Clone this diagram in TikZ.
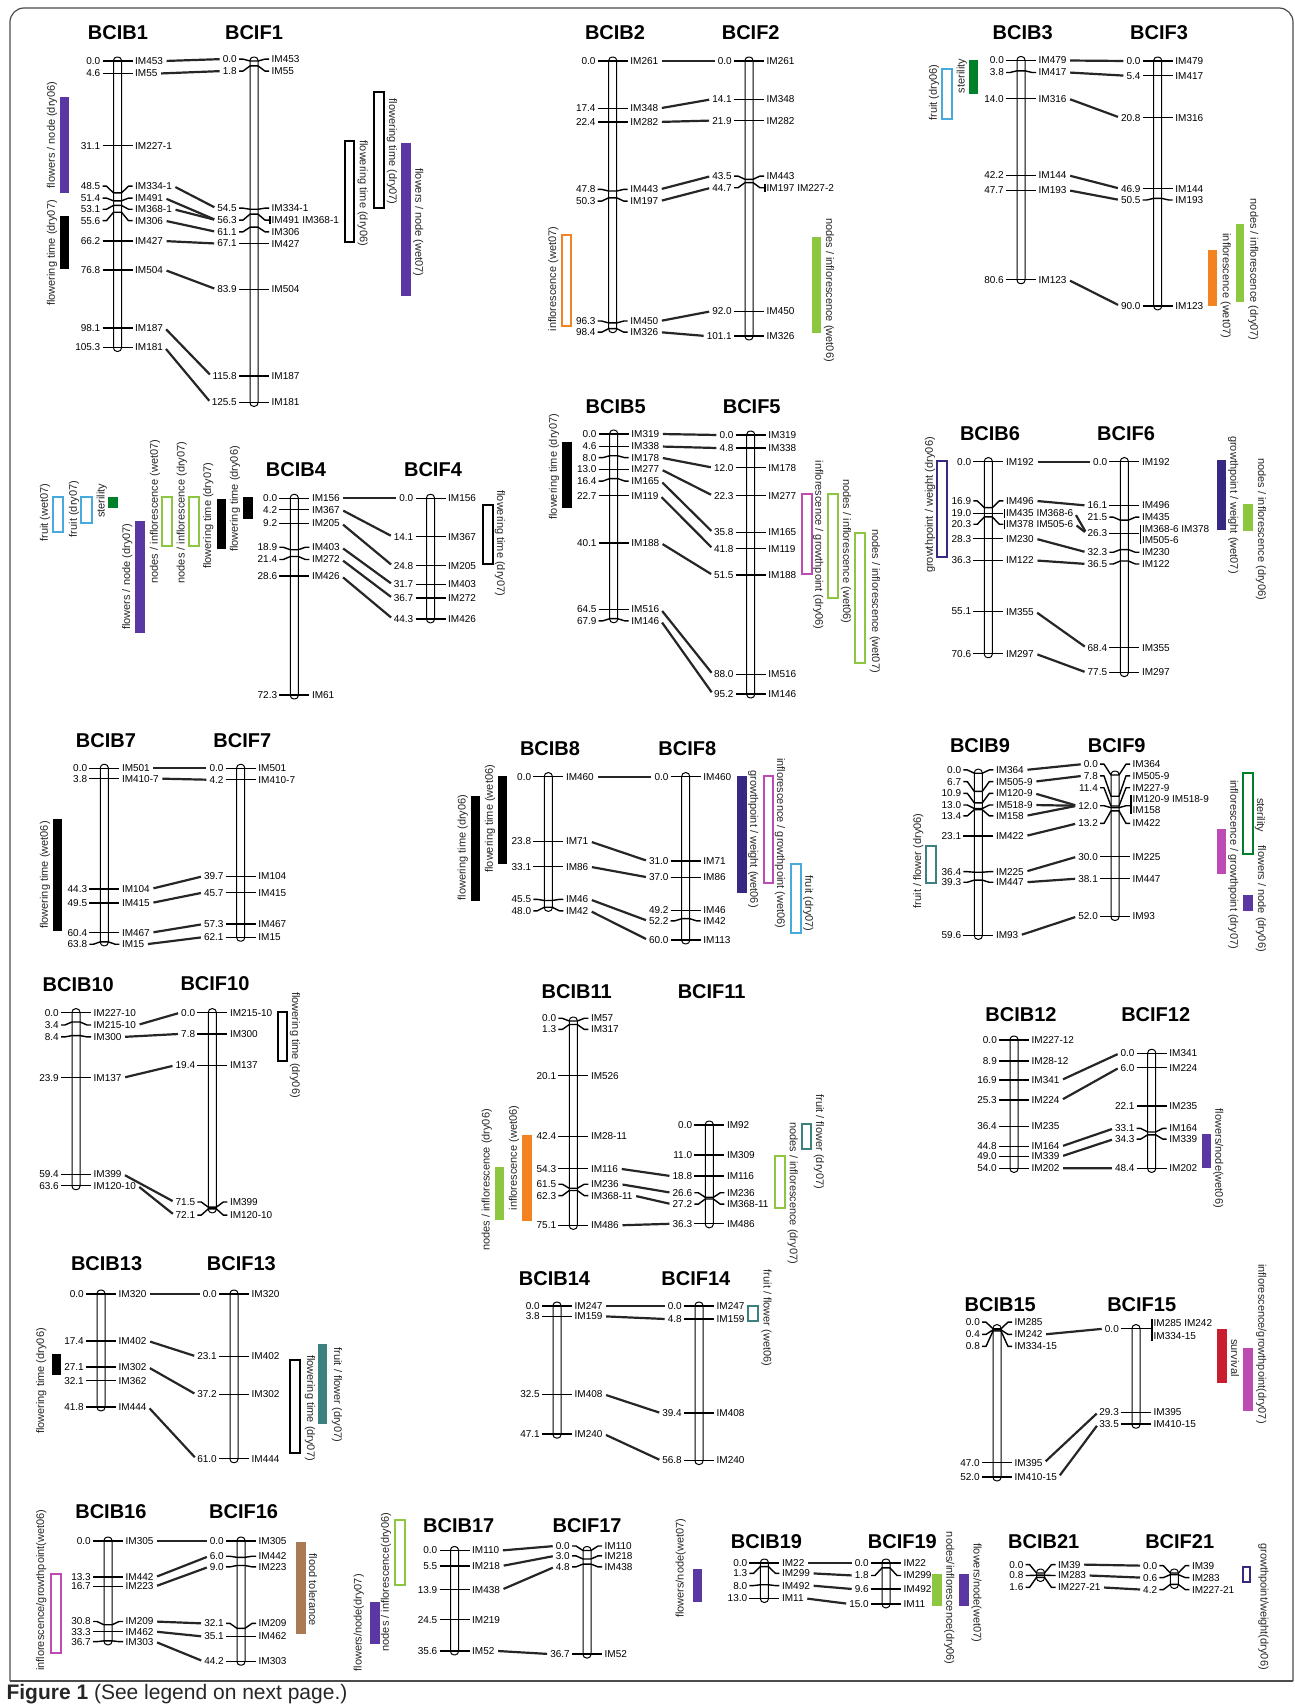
\documentclass[tikz,border=0pt]{standalone}
\usepackage{fontspec}
\setmainfont{Liberation Sans}
\usetikzlibrary{calc}
\definecolor{cPurple}{RGB}{91,55,163}
\definecolor{cGreenL}{RGB}{141,198,63}
\definecolor{cOrange}{RGB}{243,130,33}
\definecolor{cSky}{RGB}{72,170,220}
\definecolor{cGreenD}{RGB}{0,128,40}
\definecolor{cMagenta}{RGB}{190,75,180}
\definecolor{cIndigo}{RGB}{55,40,130}
\definecolor{cTeal}{RGB}{60,128,128}
\definecolor{cRed}{RGB}{200,30,45}
\definecolor{cBrown}{RGB}{170,122,85}
\tikzset{
	chrbar/.style ={draw=black, fill=white, line width=1pt, rounded corners=3.5pt},
	mtick/.style  ={line width=1.4pt, line join=round},
	poslab/.style ={anchor=east, inner sep=1pt, font=\fontsize{10}{11}\selectfont},
	mklab/.style  ={anchor=west, inner sep=1.5pt, font=\fontsize{10}{11}\selectfont},
	chrtitle/.style={font=\fontsize{20}{22}\selectfont\bfseries},
	lnk/.style    ={line width=2.2pt, black!85, shorten <=2pt, shorten >=2pt},
	brk/.style    ={line width=1.4pt, shorten <=1pt, shorten >=1pt},
	% QTL bars
	qbar/.style   ={fill=#1, draw=none},
	qbox/.style   ={draw=#1, line width=2pt},
	qtxt/.style   ={font=\fontsize{11}{12}\selectfont, inner sep=0pt, black!85},
}
% #1 name, #2 x, #3 y of 0.0, #4 px per cM, #5 length, #6 pos/label pos/marker
\newcommand{\chrom}[6]{%
	\begin{scope}[shift={(#2,#3)}, yscale=#4]
		\pgfmathsetmacro{\chrext}{4/#4}
		\draw[chrbar] (-4,-\chrext) rectangle (4,#5+\chrext);
		\foreach \cpos/\clab/\cmk [count=\ci] in {#6} {
			\draw[mtick] (-15,\clab) -- (-11,\clab) -- (-4,\cpos) -- (4,\cpos) -- (11,\clab) -- (15,\clab);
			\node[poslab] (#1p\ci) at (-16,\clab) {\cpos};
			\node[mklab] (#1m\ci) at (16,\clab) {\cmk};
		}
	\end{scope}}

\begin{document}
\begin{tikzpicture}[x=1pt, y=-1pt]
	\useasboundingbox (0,0) rectangle (1295,1705);
	\draw[black!70, line width=1.2pt, rounded corners=14pt] (10,1681) -- (10,8) -- (1293,8) -- (1293,1681);
	\draw[black!70, line width=1.2pt] (10,1681) -- (1293,1681);
	\node[anchor=west, font=\fontsize{21}{23}\selectfont, black!85] (cap) at (3,1694) {\textbf{Figure 1} (See legend on next page.)};

	% ---- pair 1
	\node[chrtitle] (tB1) at (118,33) {BCIB1};
	\node[chrtitle] (tF1) at (254,33) {BCIF1};
	\chrom{B1}{117.5}{61}{2.72}{105.3}{0.0/0.0/IM453, 4.6/4.6/IM55, 31.1/31.1/IM227-1, 48.5/46.0/IM334-1, 51.4/50.4/IM491, 53.1/54.5/IM368-1, 55.6/58.7/IM306, 66.2/66.2/IM427, 76.8/76.8/IM504, 98.1/98.1/IM187, 105.3/105.3/IM181}
	\chrom{F1}{254}{61}{2.72}{125.5}{0.0/-0.7/IM453, 1.8/3.7/IM55, 54.5/54.1/IM334-1, 56.3/58.5/{IM491 IM368-1}, 61.1/62.8/IM306, 67.1/67.1/IM427, 83.9/83.9/IM504, 115.8/115.8/IM187, 125.5/125.5/IM181}
	\draw[brk] (F1m4.north west) -- (F1m4.south west);
	\foreach \a/\b in {1/1, 2/2, 4/3, 5/4, 6/4, 7/5, 8/6, 9/7, 10/8, 11/9}
		\draw[lnk] (B1m\a.east) -- (F1p\b.west);
	\draw[qbar=cPurple] (60,97.3) rectangle (69.3,192.7);
	\node[qtxt, rotate=90] (q1a) at (52,135) {flowers / node (dry06)};
	\draw[qbar=black] (60,216) rectangle (69.3,269.3);
	\node[qtxt, rotate=90] (q1b) at (52,253) {flowering time (dry07)};
	\draw[qbox=black] (374,91.7) rectangle (384,208.3);
	\node[qtxt, rotate=-90] (q1c) at (392,151.7) {flowering time (dry07)};
	\draw[qbox=black] (345,141.3) rectangle (354,242.3);
	\node[qtxt, rotate=-90] (q1d) at (362.7,193.3) {flowering time (dry06)};
	\draw[qbar=cPurple] (401,142.7) rectangle (411,296);
	\node[qtxt, rotate=-90] (q1e) at (418.3,222.5) {flowers / node (wet07)};

	% ---- pair 2
	\node[chrtitle] (tB2) at (615,33) {BCIB2};
	\node[chrtitle] (tF2) at (750.7,33) {BCIF2};
	\chrom{B2}{612.7}{61}{2.72}{98.4}{0.0/0.0/IM261, 17.4/17.4/IM348, 22.4/22.4/IM282, 47.8/47.2/IM443, 50.3/51.5/IM197, 96.3/95.6/IM450, 98.4/99.7/IM326}
	\chrom{F2}{749}{61}{2.72}{101.1}{0.0/0.0/IM261, 14.1/14.1/IM348, 21.9/21.9/IM282, 43.5/42.3/IM443, 44.7/46.6/{IM197 IM227-2}, 92.0/92.0/IM450, 101.1/101.1/IM326}
	\draw[brk] (F2m5.north west) -- (F2m5.south west);
	\foreach \a/\b in {1/1, 2/2, 3/3, 4/4, 5/5, 6/6, 7/7}
		\draw[lnk] (B2m\a.east) -- (F2p\b.west);
	\draw[qbox=cOrange] (561.7,235) rectangle (570.7,325.7);
	\node[qtxt, rotate=90] (q2a) at (553.3,279) {inflorescence (wet07)};
	\draw[qbar=cGreenL] (812.3,237.3) rectangle (821,333.3);
	\node[qtxt, rotate=-90] (q2b) at (829,290) {nodes / inflorescence (wet06)};

	% ---- pair 3
	\node[chrtitle] (tB3) at (1022.7,33) {BCIB3};
	\node[chrtitle] (tF3) at (1159,33) {BCIF3};
	\chrom{B3}{1021}{60.5}{2.72}{80.6}{0.0/0.0/IM479, 3.8/4.4/IM417, 14.0/14.0/IM316, 42.2/42.2/IM144, 47.7/47.7/IM193, 80.6/80.6/IM123}
	\chrom{F3}{1157.7}{61}{2.72}{90.0}{0.0/0.0/IM479, 5.4/5.4/IM417, 20.8/20.8/IM316, 46.9/46.9/IM144, 50.5/51.1/IM193, 90.0/90.0/IM123}
	\foreach \a/\b in {1/1, 2/2, 3/3, 4/4, 5/5, 6/6}
		\draw[lnk] (B3m\a.east) -- (F3p\b.west);
	\draw[qbox=cSky] (941.7,69) rectangle (951.7,119.3);
	\node[qtxt, rotate=90] (q3a) at (934,92.5) {fruit (dry06)};
	\draw[qbar=cGreenD] (969.3,60) rectangle (978.3,94);
	\node[qtxt, rotate=90] (q3b) at (961.7,76) {sterility};
	\draw[qbar=cOrange] (1208.3,250) rectangle (1217.3,306);
	\node[qtxt, rotate=-90] (q3c) at (1225.7,285.8) {inflorescence (wet07)};
	\draw[qbar=cGreenL] (1236,224.3) rectangle (1244.3,301.7);
	\node[qtxt, rotate=-90] (q3d) at (1253.3,269.7) {nodes / inflorescence (dry07)};

	% ---- pair 4
	\node[chrtitle] (tB4) at (296,470) {BCIB4};
	\node[chrtitle] (tF4) at (433,470) {BCIF4};
	\chrom{B4}{294.3}{498.3}{2.72}{72.3}{0.0/0.0/IM156, 4.2/4.2/IM367, 9.2/9.2/IM205, 18.9/18.0/IM403, 21.4/22.5/IM272, 28.6/28.6/IM426, 72.3/72.3/IM61}
	\chrom{F4}{430.5}{498.3}{2.72}{44.3}{0.0/0.0/IM156, 14.1/14.1/IM367, 24.8/24.8/IM205, 31.7/31.7/IM403, 36.7/36.7/IM272, 44.3/44.3/IM426}
	\foreach \a/\b in {1/1, 2/2, 3/3, 4/4, 5/5, 6/6}
		\draw[lnk] (B4m\a.east) -- (F4p\b.west);
	\draw[qbox=cSky] (52.7,497.3) rectangle (62.7,532.3);
	\node[qtxt, rotate=90] (q4a) at (45,512.5) {fruit (wet07)};
	\draw[qbox=cSky] (81,497.3) rectangle (91.7,523.3);
	\node[qtxt, rotate=90] (q4b) at (74,509) {fruit (dry07)};
	\draw[qbar=cGreenD] (108.3,497.3) rectangle (118.3,507.7);
	\node[qtxt, rotate=90] (q4c) at (101.7,500.8) {sterility};
	\draw[qbar=cPurple] (135,521) rectangle (145,633.3);
	\node[qtxt, rotate=90] (q4d) at (127.3,576.7) {flowers / node (dry07)};
	\draw[qbox=cGreenL] (162.3,497.3) rectangle (172.3,546);
	\node[qtxt, rotate=90] (q4e) at (155,511.7) {nodes / inflorescence (wet07)};
	\draw[qbox=cGreenL] (189,497.3) rectangle (199,546);
	\node[qtxt, rotate=90] (q4f) at (181.7,512.5) {nodes / inflorescence (dry07)};
	\draw[qbar=black] (216.7,499) rectangle (226,549.3);
	\node[qtxt, rotate=90] (q4g) at (208.3,515.8) {flowering time (dry07)};
	\draw[qbar=black] (243.3,497.3) rectangle (252.7,519);
	\node[qtxt, rotate=90] (q4h) at (235,499) {flowering time (dry06)};
	\draw[qbox=black] (482.7,505) rectangle (492.7,564.3);
	\node[qtxt, rotate=-90] (q4i) at (500,543.3) {flowering time (dry07)};

	% ---- pair 5
	\node[chrtitle] (tB5) at (615.7,406.7) {BCIB5};
	\node[chrtitle] (tF5) at (751.7,406.7) {BCIF5};
	\chrom{B5}{613.7}{434}{2.72}{67.9}{0.0/0.0/IM319, 4.6/4.6/IM338, 8.0/8.7/IM178, 13.0/13.0/IM277, 16.4/17.3/IM165, 22.7/22.7/IM119, 40.1/40.1/IM188, 64.5/64.5/IM516, 67.9/68.7/IM146}
	\chrom{F5}{750.7}{435}{2.72}{95.2}{0.0/0.0/IM319, 4.8/4.8/IM338, 12.0/12.0/IM178, 22.3/22.3/IM277, 35.8/35.8/IM165, 41.8/41.8/IM119, 51.5/51.5/IM188, 88.0/88.0/IM516, 95.2/95.2/IM146}
	\foreach \a/\b in {1/1, 2/2, 3/3, 4/4, 5/5, 6/6, 7/7, 8/8, 9/9}
		\draw[lnk] (B5m\a.east) -- (F5p\b.west);
	\draw[qbar=black] (562.3,442.3) rectangle (571.7,508.3);
	\node[qtxt, rotate=90] (q5a) at (554,466.7) {flowering time (dry07)};
	\draw[qbox=cMagenta] (801.7,494.3) rectangle (811.7,574.3);
	\node[qtxt, rotate=-90] (q5b) at (818.3,545.3) {inflorescence / growthpoint (dry06)};
	\draw[qbox=cGreenL] (828.3,494.3) rectangle (838.3,598.3);
	\node[qtxt, rotate=-90] (q5c) at (846,551.3) {nodes / inflorescence (wet06)};
	\draw[qbox=cGreenL] (855,533.3) rectangle (865,663.3);
	\node[qtxt, rotate=-90] (q5d) at (875,601) {nodes / inflorescence (wet07)};

	% ---- pair 6
	\node[chrtitle] (tB6) at (990,433.3) {BCIB6};
	\node[chrtitle] (tF6) at (1126,433.3) {BCIF6};
	\chrom{B6}{988.3}{461.7}{2.72}{70.6}{0.0/0.0/IM192, 16.9/14.4/IM496, 19.0/19.0/{IM435 IM368-6}, 20.3/23.0/{IM378 IM505-6}, 28.3/28.3/IM230, 36.3/36.3/IM122, 55.1/55.1/IM355, 70.6/70.6/IM297}
	\chrom{F6}{1124.3}{461.7}{2.72}{77.5}{0.0/0.0/IM192, 16.1/16.1/IM496, 21.5/20.4/IM435, 26.3/26.3/{}, 32.3/33.3/IM230, 36.5/37.6/IM122, 68.4/68.4/IM355, 77.5/77.5/IM297}
	\draw[brk] (B6m3.north west) -- (B6m3.south west);
	\draw[brk] (B6m4.north west) -- (B6m4.south west);
	\node[mklab] (F6x1) at (1140.3,529) {IM368-6 IM378};
	\node[mklab] (F6x2) at (1140.3,540) {IM505-6};
	\draw[brk] (F6x1.north west) -- (F6x2.south west);
	\foreach \a/\b in {1/1, 2/2, 3/4, 4/4, 5/5, 6/6, 7/7, 8/8}
		\draw[lnk] (B6m\a.east) -- (F6p\b.west);
	\draw[qbox=cIndigo] (937.3,461) rectangle (946.7,557.3);
	\node[qtxt, rotate=90] (q6a) at (930,505) {growthpoint / weight (dry06)};
	\draw[qbar=cIndigo] (1216.7,460) rectangle (1226,530);
	\node[qtxt, rotate=-90] (q6b) at (1233.3,505) {growthpoint / weight (wet07)};
	\draw[qbar=cGreenL] (1243.3,504) rectangle (1252.7,530.7);
	\node[qtxt, rotate=-90] (q6c) at (1261,529.3) {nodes / inflorescence (dry06)};

	% ---- pair 7
	\node[chrtitle] (tB7) at (106,740.7) {BCIB7};
	\node[chrtitle] (tF7) at (242.3,740.7) {BCIF7};
	\chrom{B7}{104.3}{768.3}{2.72}{63.8}{0.0/0.0/IM501, 3.8/3.8/IM410-7, 44.3/44.3/IM104, 49.5/49.5/IM415, 60.4/60.4/IM467, 63.8/64.7/IM15}
	\chrom{F7}{240.7}{768.3}{2.72}{62.1}{0.0/0.0/IM501, 4.2/4.2/IM410-7, 39.7/39.7/IM104, 45.7/45.7/IM415, 57.3/57.3/IM467, 62.1/62.1/IM15}
	\foreach \a/\b in {1/1, 2/2, 3/3, 4/4, 5/5, 6/6}
		\draw[lnk] (B7m\a.east) -- (F7p\b.west);
	\draw[qbar=black] (52.7,819) rectangle (62,930.7);
	\node[qtxt, rotate=90] (q7a) at (45,875) {flowering time (wet06)};

	% ---- pair 8
	\node[chrtitle] (tB8) at (550,748.3) {BCIB8};
	\node[chrtitle] (tF8) at (687.3,748.3) {BCIF8};
	\chrom{B8}{548.3}{776.7}{2.72}{48.0}{0.0/0.0/IM460, 23.8/23.8/IM71, 33.1/33.1/IM86, 45.5/45.1/IM46, 48.0/49.3/IM42}
	\chrom{F8}{685.7}{776.7}{2.72}{60.0}{0.0/0.0/IM460, 31.0/31.0/IM71, 37.0/37.0/IM86, 49.2/49.2/IM46, 52.2/53.0/IM42, 60.0/60.0/IM113}
	\foreach \a/\b in {1/1, 2/2, 3/3, 4/5, 5/6}
		\draw[lnk] (B8m\a.east) -- (F8p\b.west);
	\draw[qbar=black] (470.7,796) rectangle (480,900.7);
	\node[qtxt, rotate=90] (q8a) at (462.7,847.5) {flowering time (dry06)};
	\draw[qbar=black] (497.7,775.7) rectangle (506.7,864.3);
	\node[qtxt, rotate=90] (q8b) at (490,818.8) {flowering time (wet06)};
	\draw[qbar=cIndigo] (737.3,776) rectangle (746.7,893.3);
	\node[qtxt, rotate=-90] (q8c) at (753.3,839) {growthpoint / weight (wet06)};
	\draw[qbox=cMagenta] (764.3,776) rectangle (773.3,883.3);
	\node[qtxt, rotate=-90] (q8d) at (780,843.3) {inflorescence / growthpoint (wet06)};
	\draw[qbox=cSky] (791,864.3) rectangle (800.7,932.7);
	\node[qtxt, rotate=-90] (q8e) at (808.3,903.3) {fruit (dry07)};

	% ---- pair 9
	\node[chrtitle] (tB9) at (980,746) {BCIB9};
	\node[chrtitle] (tF9) at (1116.7,746) {BCIF9};
	\chrom{B9}{978.3}{773.2}{2.72}{59.6}{0.0/-1.2/IM364, 6.7/3.1/IM505-9, 10.9/7.4/IM120-9, 13.0/11.7/IM518-9, 13.4/15.7/IM158, 23.1/23.1/IM422, 36.4/36.2/IM225, 39.3/40.1/IM447, 59.6/59.6/IM93}
	\chrom{F9}{1115}{775}{2.72}{52.0}{0.0/-4.0/IM364, 7.8/0.3/IM505-9, 11.4/4.7/IM227-9, 12.0/11.3/{}, 13.2/17.8/IM422, 30.0/30.0/IM225, 38.1/38.1/IM447, 52.0/52.0/IM93}
	\node[mklab] (F9x1) at (1131,799) {IM120-9 IM518-9};
	\node[mklab] (F9x2) at (1131,810) {IM158};
	\draw[brk] (F9x1.north west) -- (F9x2.south west);
	\foreach \a/\b in {1/1, 2/2, 3/4, 4/4, 5/4, 6/5, 7/6, 8/7, 9/8}
		\draw[lnk] (B9m\a.east) -- (F9p\b.west);
	\draw[qbox=cTeal] (926,846) rectangle (936,882.7);
	\node[qtxt, rotate=90] (q9a) at (918.3,860.8) {fruit / flower (dry06)};
	\draw[qbox=cGreenD] (1243.3,773.3) rectangle (1253.3,854);
	\node[qtxt, rotate=-90] (q9b) at (1260,815.3) {sterility};
	\draw[qbar=cMagenta] (1216.7,829) rectangle (1226,874.3);
	\node[qtxt, rotate=-90] (q9c) at (1233.3,864.7) {inflorescence / growthpoint (dry07)};
	\draw[qbar=cPurple] (1243.3,895) rectangle (1253.3,910.7);
	\node[qtxt, rotate=-90] (q9d) at (1261,898.7) {flowers / node (dry06)};

	% ---- pair 10
	\node[chrtitle] (tB10) at (78.3,985) {BCIB10};
	\node[chrtitle] (tF10) at (215,983.3) {BCIF10};
	\chrom{B10}{76}{1012.7}{2.72}{63.6}{0.0/0.0/IM227-10, 3.4/4.5/IM215-10, 8.4/8.9/IM300, 23.9/23.9/IM137, 59.4/59.4/IM399, 63.6/63.6/IM120-10}
	\chrom{F10}{212.3}{1012.7}{2.72}{72.1}{0.0/0.0/IM215-10, 7.8/7.8/IM300, 19.4/19.4/IM137, 71.5/69.6/IM399, 72.1/74.4/IM120-10}
	\foreach \a/\b in {2/1, 3/2, 4/3, 5/4, 6/5}
		\draw[lnk] (B10m\a.east) -- (F10p\b.west);
	\draw[qbox=black] (278.3,1012.3) rectangle (287.3,1060.7);
	\node[qtxt, rotate=-90] (q10a) at (295,1045) {flowering time (dry06)};

	% ---- pair 11
	\node[chrtitle] (tB11) at (576.7,991.7) {BCIB11};
	\node[chrtitle] (tF11) at (711.7,991.7) {BCIF11};
	\chrom{B11}{573.3}{1021}{2.72}{75.1}{0.0/-1.0/IM57, 1.3/3.1/IM317, 20.1/20.1/IM526, 42.4/42.4/IM28-11, 54.3/54.3/IM116, 61.5/60.0/IM236, 62.3/64.2/IM368-11, 75.1/75.1/IM486}
	\chrom{F11}{709.3}{1125}{2.72}{36.3}{0.0/0.0/IM92, 11.0/11.0/IM309, 18.8/18.8/IM116, 26.6/24.9/IM236, 27.2/29.1/IM368-11, 36.3/36.3/IM486}
	\foreach \a/\b in {5/3, 6/4, 7/5, 8/6}
		\draw[lnk] (B11m\a.east) -- (F11p\b.west);
	\draw[qbar=cGreenL] (495,1167.3) rectangle (504,1220);
	\node[qtxt, rotate=90] (q11a) at (486.7,1180) {nodes / inflorescence (dry06)};
	\draw[qbar=cOrange] (522.3,1135) rectangle (531.7,1220.7);
	\node[qtxt, rotate=90] (q11b) at (514,1158) {inflorescence (wet06)};
	\draw[qbox=cTeal] (802.3,1124.3) rectangle (811,1149.3);
	\node[qtxt, rotate=-90] (q11c) at (819,1141.7) {fruit / flower (dry07)};
	\draw[qbox=cGreenL] (775,1156) rectangle (785,1208.3);
	\node[qtxt, rotate=-90] (q11d) at (792.7,1193) {nodes / inflorescence (dry07)};

	% ---- pair 12
	\node[chrtitle] (tB12) at (1021,1015) {BCIB12};
	\node[chrtitle] (tF12) at (1155.7,1015) {BCIF12};
	\chrom{B12}{1014}{1040}{2.376}{54.0}{0.0/0.0/IM227-12, 8.9/8.9/IM28-12, 16.9/16.9/IM341, 25.3/25.3/IM224, 36.4/36.4/IM235, 44.8/44.8/IM164, 49.0/49.0/IM339, 54.0/54.0/IM202}
	\chrom{F12}{1151.7}{1053.3}{2.376}{48.4}{0.0/0.0/IM341, 6.0/6.0/IM224, 22.1/22.1/IM235, 33.1/31.6/IM164, 34.3/36.1/IM339, 48.4/48.4/IM202}
	\foreach \a/\b in {3/1, 4/2, 6/4, 7/5, 8/6}
		\draw[lnk] (B12m\a.east) -- (F12p\b.west);
	\draw[qbar=cPurple] (1201.7,1134) rectangle (1210.7,1168.3);
	\node[qtxt, rotate=-90] (q12a) at (1218.3,1158.3) {flowers/node(wet06)};

	% ---- pair 13
	\node[chrtitle] (tB13) at (106.6,1263.5) {BCIB13};
	\node[chrtitle] (tF13) at (241.4,1263.5) {BCIF13};
	\chrom{B13}{101}{1294}{2.7}{41.8}{0.0/0.0/IM320, 17.4/17.4/IM402, 27.1/27.1/IM302, 32.1/32.1/IM362, 41.8/41.8/IM444}
	\chrom{F13}{234}{1294}{2.7}{61.0}{0.0/0.0/IM320, 23.1/23.1/IM402, 37.2/37.2/IM302, 61.0/61.0/IM444}
	\foreach \a/\b in {1/1, 2/2, 3/3, 5/4}
		\draw[lnk] (B13m\a.east) -- (F13p\b.west);
	\draw[qbar=black] (52.2,1353.7) rectangle (60.9,1375.4);
	\node[qtxt, rotate=90] (q13a) at (41.3,1381) {flowering time (dry06)};
	\draw[qbox=black] (290.3,1360) rectangle (300.1,1452.6);
	\node[qtxt, rotate=-90] (q13b) at (310,1408) {flowering time (dry07)};
	\draw[qbar=cTeal] (317.5,1343.9) rectangle (327.3,1424.4);
	\node[qtxt, rotate=-90] (q13c) at (337,1395) {fruit / flower (dry07)};

	% ---- pair 14
	\node[chrtitle] (tB14) at (554.5,1278.7) {BCIB14};
	\node[chrtitle] (tF14) at (695.9,1278.7) {BCIF14};
	\chrom{B14}{557}{1306}{2.72}{47.1}{0.0/0.0/IM247, 3.8/3.8/IM159, 32.5/32.5/IM408, 47.1/47.1/IM240}
	\chrom{F14}{699}{1306}{2.72}{56.8}{0.0/0.0/IM247, 4.8/4.8/IM159, 39.4/39.4/IM408, 56.8/56.8/IM240}
	\foreach \a/\b in {1/1, 2/2, 3/3, 4/4}
		\draw[lnk] (B14m\a.east) -- (F14p\b.west);
	\draw[qbox=cTeal] (748,1305.8) rectangle (757.8,1321);
	\node[qtxt, rotate=-90] (q14a) at (766.5,1318) {fruit / flower (wet06)};

	% ---- pair 15
	\node[chrtitle] (tB15) at (1000.3,1304.8) {BCIB15};
	\node[chrtitle] (tF15) at (1141.7,1304.8) {BCIF15};
	\chrom{B15}{997}{1328.7}{2.85}{52.0}{0.0/-2.3/IM285, 0.4/2.0/IM242, 0.8/6.2/IM334-15, 47.0/47.0/IM395, 52.0/52.0/IM410-15}
	\chrom{F15}{1136}{1328.7}{2.85}{33.5}{0.0/0.0/{}, 29.3/29.3/IM395, 33.5/33.5/IM410-15}
	\node[mklab] (F15x1) at (1152,1323.3) {IM285 IM242};
	\node[mklab] (F15x2) at (1152,1336.3) {IM334-15};
	\draw[brk] (F15x1.north west) -- (F15x2.south west);
	\foreach \a/\b in {2/1, 4/2, 5/3}
		\draw[lnk] (B15m\a.east) -- (F15p\b.west);
	\draw[qbar=cRed] (1216.7,1328.7) rectangle (1226.5,1383);
	\node[qtxt, rotate=-90] (q15a) at (1235,1358) {survival};
	\draw[qbar=cMagenta] (1242.8,1348.3) rectangle (1252.6,1411.3);
	\node[qtxt, rotate=-90] (q15b) at (1261.3,1343.9) {inflorescence/growthpoint(dry07)};

	% ---- pair 16
	\node[chrtitle] (tB16) at (110.9,1511.3) {BCIB16};
	\node[chrtitle] (tF16) at (243.6,1511.3) {BCIF16};
	\chrom{B16}{108}{1541}{2.72}{36.7}{0.0/0.0/IM305, 13.3/13.3/IM442, 16.7/16.7/IM223, 30.8/29.6/IM209, 33.3/33.3/IM462, 36.7/37.0/IM303}
	\chrom{F16}{241}{1541}{2.72}{44.2}{0.0/0.0/IM305, 6.0/5.6/IM442, 9.0/9.5/IM223, 32.1/30.3/IM209, 35.1/35.1/IM462, 44.2/44.2/IM303}
	\foreach \a/\b in {1/1, 2/2, 3/3, 4/4, 5/5, 6/6}
		\draw[lnk] (B16m\a.east) -- (F16p\b.west);
	\draw[qbox=cMagenta] (51.1,1574.4) rectangle (60.9,1652.7);
	\node[qtxt, rotate=90] (q16a) at (41.3,1590.2) {inflorescence/growthpoint(wet06)};
	\draw[qbar=cBrown] (295.7,1541.8) rectangle (305.5,1634.2);
	\node[qtxt, rotate=-90] (q16b) at (313.1,1590) {flood tolerance};

	% ---- pair 17
	\node[chrtitle] (tB17) at (458.8,1525.5) {BCIB17};
	\node[chrtitle] (tF17) at (587.1,1525.5) {BCIF17};
	\chrom{B17}{454.5}{1550.5}{2.82}{35.6}{0.0/0.0/IM110, 5.5/5.5/IM218, 13.9/13.9/IM438, 24.5/24.5/IM219, 35.6/35.6/IM52}
	\chrom{F17}{587}{1550.5}{2.82}{36.7}{0.0/-1.6/IM110, 3.0/1.9/IM218, 4.8/5.8/IM438, 36.7/36.7/IM52}
	\foreach \a/\b in {1/1, 2/2, 3/3, 5/4}
		\draw[lnk] (B17m\a.east) -- (F17p\b.west);
	\draw[qbar=cPurple] (369.7,1601.6) rectangle (379.5,1644);
	\node[qtxt, rotate=90] (q17a) at (358.8,1622.8) {flowers/node(dry07)};
	\draw[qbox=cGreenL] (394.7,1520) rectangle (404.5,1585.3);
	\node[qtxt, rotate=90] (q17b) at (386,1582) {nodes / inflorescence(dry06)};

	% ---- pair 19
	\node[chrtitle] (tB19) at (766.5,1541.8) {BCIB19};
	\node[chrtitle] (tF19) at (902.4,1541.8) {BCIF19};
	\chrom{B19}{764.4}{1563}{2.72}{13.0}{0.0/0.0/IM22, 1.3/3.8/IM299, 8.0/8.3/IM492, 13.0/13.0/IM11}
	\chrom{F19}{886}{1563}{2.72}{15.0}{0.0/0.0/IM22, 1.8/4.6/IM299, 9.6/9.6/IM492, 15.0/15.0/IM11}
	\foreach \a/\b in {1/1, 2/2, 3/3, 4/4}
		\draw[lnk] (B19m\a.east) -- (F19p\b.west);
	\draw[qbar=cPurple] (692.6,1569) rectangle (702.4,1601.6);
	\node[qtxt, rotate=90] (q19a) at (680.7,1568.4) {flowers/node(wet07)};
	\draw[qbar=cGreenL] (931.8,1574.4) rectangle (941.6,1606);
	\node[qtxt, rotate=-90] (q19b) at (949.2,1598.3) {nodes/inflorescence(dry06)};
	\draw[qbar=cPurple] (959,1574.4) rectangle (968.8,1606);
	\node[qtxt, rotate=-90] (q19c) at (976.4,1592.9) {flowers/node(wet07)};

	% ---- pair 21
	\node[chrtitle] (tB21) at (1043.8,1541.8) {BCIB21};
	\node[chrtitle] (tF21) at (1179.7,1541.8) {BCIF21};
	\chrom{B21}{1040.5}{1573}{2.72}{1.6}{0.0/-3.1/IM39, 0.8/0.9/IM283, 1.6/5.3/IM227-21}
	\chrom{F21}{1174.3}{1573}{2.72}{4.2}{0.0/-2.7/IM39, 0.6/1.7/IM283, 4.2/6.1/IM227-21}
	\foreach \a/\b in {1/1, 2/2, 3/3}
		\draw[lnk] (B21m\a.east) -- (F21p\b.west);
	\draw[qbox=cIndigo] (1242.8,1566.8) rectangle (1250.4,1582);
	\node[qtxt, rotate=-90] (q21a) at (1263.5,1606.5) {growthpoint/weight(dry06)};
\end{tikzpicture}
\end{document}
